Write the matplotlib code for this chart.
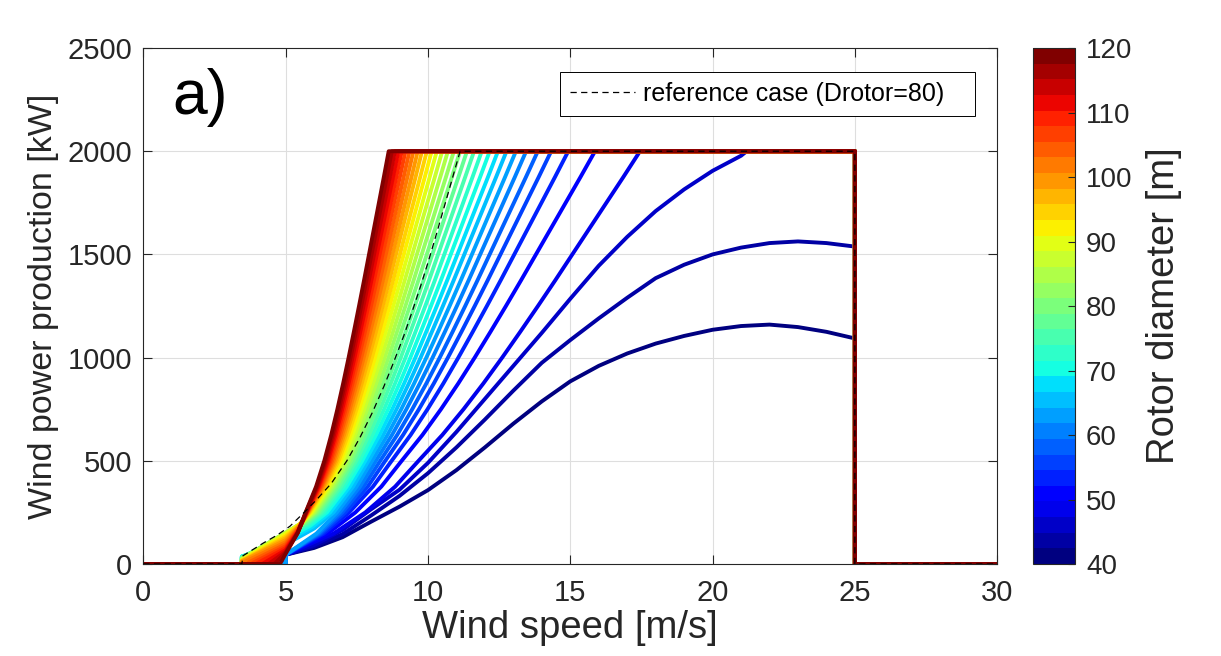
import numpy as np
import matplotlib.pyplot as plt
from matplotlib import colors

plt.rcParams['font.family'] = ['Liberation Sans', 'DejaVu Sans']

# rotor diameters [m], one curve each
diameters = [40, 42.5, 45, 47.5, 50, 52.5, 55, 57.5, 60, 62.5, 65, 67.5, 70, 72.5, 75,
             77.5, 80, 82.5, 85, 87.5, 90, 92.5, 95, 97.5, 100, 102.5, 105, 107.5, 110,
             112.5, 115, 117.5, 120]

# three smallest rotors, read point by point
ws_small = [5, 6, 7, 8, 9, 10, 11, 12, 13, 14, 15, 16, 17, 18, 19, 20, 21, 22, 23, 24, 25]
kw_d40 = [45, 78, 130, 205, 278, 358, 455, 565, 680, 788, 885, 960, 1020, 1068, 1105,
          1135, 1153, 1160, 1148, 1125, 1093]
kw_d42 = [45, 85, 145, 235, 330, 440, 565, 700, 840, 975, 1085, 1190, 1290, 1385, 1450,
          1500, 1533, 1555, 1563, 1555, 1538]
ws_d45 = [5, 6, 7, 8, 9, 10, 11, 12, 13, 14, 15, 16, 17, 18, 19, 20, 21, 21.2]
kw_d45 = [45, 92, 165, 265, 360, 490, 640, 800, 960, 1120, 1285, 1445, 1585, 1710, 1815,
          1905, 1978, 2000]

# D = 47.5 ... 120
rated_ws = [17.45, 15.87, 14.93, 14.33, 13.86, 13.45, 13.09, 12.76, 12.46, 12.17, 11.89,
            11.62, 11.37, 11.13, 10.91, 10.70, 10.50, 10.31, 10.13, 9.96, 9.79, 9.64,
            9.49, 9.35, 9.21, 9.08, 8.96, 8.84, 8.73, 8.62]
start_ws = [5.0, 5.0, 5.0, 5.0, 5.0, 5.0, 5.0, 3.46, 3.46, 3.46, 3.46, 3.46, 3.46, 3.46,
            3.46, 3.46, 3.46, 3.46, 3.46, 3.46, 3.46, 3.46, 3.55, 3.7, 3.85, 4.0, 4.2,
            4.4, 4.6, 4.8]
start_kw = [45, 45, 45, 45, 45, 45, 45, 37, 36, 35, 34, 32, 30, 28, 26, 24, 22, 20, 18,
            16, 14, 12, 10, 8, 6, 4, 2, 0, 0, 0]
kw_at_5 = [45, 45, 45, 45, 45, 45, 45, 95, 110, 122, 132, 140, 146, 150, 152, 152, 150,
           146, 140, 133, 125, 116, 106, 96, 86, 77, 68, 60, 54, 50]
ws_250 = [7.80, 7.45, 7.23, 7.10, 6.99, 6.90, 6.80, 6.68, 6.56, 6.45, 6.35, 6.26, 6.18,
          6.11, 6.05, 6.00, 5.95, 5.91, 5.87, 5.84, 5.81, 5.79, 5.77, 5.76, 5.75, 5.74,
          5.73, 5.72, 5.71, 5.70]

# curve shape
# upper ramp: fraction of the way from 5 m/s to rated speed at each power level
ramp_kw = [500, 625, 750, 875, 1000, 1125, 1250, 1375, 1500, 1625, 1750, 1875, 2000]
ramp_frac = [0.375, 0.442, 0.502, 0.558, 0.611, 0.662, 0.712, 0.761, 0.809, 0.857,
             0.905, 0.953, 1.0]
mid_low = 0.6    # speed share, halfway in power between 5 m/s and 250 kW
mid_375 = 0.56   # speed share at 375 kW between 250 and 500 kW

# reference case (dashed)
ref_ws = [0, 3.46, 3.5, 4.22, 4.7, 5.15, 5.65, 6.09, 6.6, 7.15, 7.6, 8.05, 8.45, 8.8,
          9.15, 9.45, 9.75, 10.0, 10.3, 10.55, 10.85, 11.13, 25, 25, 30]
ref_kw = [0, 0, 40, 102, 140, 183, 250, 312, 390, 500, 610, 735, 860, 980, 1105, 1225,
          1350, 1460, 1600, 1720, 1865, 2000, 2000, 0, 0]

cut_out = 25
rated_kw = 2000

cmap = plt.get_cmap('jet', len(diameters))
norm = colors.Normalize(vmin=40, vmax=120)
tc = (0.15, 0.15, 0.15)

fig = plt.figure(figsize=(12.21, 6.56), dpi=100)
ax = fig.add_axes([0.1174, 0.1402, 0.6993, 0.7866])

curves = []
curves.append(([0, 5] + ws_small + [cut_out, 30], [0, 0] + kw_d40 + [0, 0]))
curves.append(([0, 5] + ws_small + [cut_out, 30], [0, 0] + kw_d42 + [0, 0]))
curves.append(([0, 5] + ws_d45 + [cut_out, cut_out, 30],
               [0, 0] + kw_d45 + [rated_kw, 0, 0]))
for i in range(len(rated_ws)):
    vr, s, p0, p5, v250 = rated_ws[i], start_ws[i], start_kw[i], kw_at_5[i], ws_250[i]
    up_ws = [5 + (vr - 5) * f for f in ramp_frac]
    ws = [0, s, s, 5, 5 + (v250 - 5) * mid_low, v250,
          v250 + (up_ws[0] - v250) * mid_375] + up_ws + [cut_out, cut_out, 30]
    kw = [0, 0, p0, p5, (p5 + 250) / 2, 250, 375] + ramp_kw + [rated_kw, 0, 0]
    curves.append((ws, kw))

# grid under the curves, ticks above them
for x in range(5, 30, 5):
    ax.axvline(x, color=(0.87, 0.87, 0.87), lw=0.8, zorder=0.5)
for y in range(500, 2500, 500):
    ax.axhline(y, color=(0.87, 0.87, 0.87), lw=0.8, zorder=0.5)

for D, (ws, kw) in zip(diameters, curves):
    ax.plot(ws, kw, color=cmap(norm(D)), lw=2.8, solid_joinstyle='round',
            solid_capstyle='butt', zorder=2)

ax.plot(ref_ws, ref_kw, 'k--', lw=0.9, dashes=(5, 3.5), zorder=3,
        label='reference case (Drotor=80)   ')

ax.set_xlim(0, 30)
ax.set_ylim(0, 2500)
ax.set_xticks(np.arange(0, 31, 5))
ax.set_yticks(np.arange(0, 2501, 500))
ax.tick_params(direction='in', top=True, right=True, length=6.5, width=0.8,
               labelsize=21, colors=tc)
ax.tick_params(axis='x', pad=11)
ax.tick_params(axis='y', pad=8)
for s in ax.spines.values():
    s.set_color(tc)
    s.set_linewidth(0.8)
ax.set_xlabel('Wind speed [m/s]', fontsize=27.5, color=tc, labelpad=2)
ax.set_ylabel('Wind power production [kW]', fontsize=24.5, color=tc, labelpad=6)

ax.text(0.034, 0.905, 'a)', transform=ax.transAxes, fontsize=45, va='center', ha='left')

leg = ax.legend(loc='upper right', bbox_to_anchor=(0.974, 0.9535), borderaxespad=0,
                fancybox=False, edgecolor='k', framealpha=1, fontsize=18,
                handlelength=2.6, handletextpad=0.3, borderpad=0.4)
leg.get_frame().set_linewidth(0.7)

cax = fig.add_axes([0.846, 0.1402, 0.0344, 0.7866])
sm = plt.cm.ScalarMappable(cmap=cmap, norm=norm)
cb = fig.colorbar(sm, cax=cax, ticks=np.arange(40, 121, 10))
cb.ax.tick_params(direction='in', length=5, width=0.8, labelsize=20, colors=tc, pad=8)
cb.outline.set_edgecolor(tc)
cb.outline.set_linewidth(0.8)
cb.set_label('Rotor diameter [m]', fontsize=27.5, color=tc, labelpad=10)

fig.savefig('out.png', dpi=100)
